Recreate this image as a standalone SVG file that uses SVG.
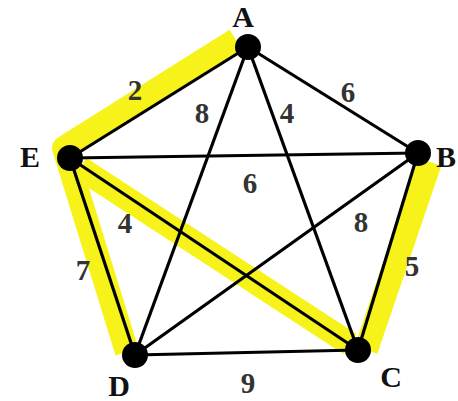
<svg xmlns="http://www.w3.org/2000/svg" width="458" height="401" viewBox="0 0 458 401">
<style>
.hl{fill:none;stroke:#f7f31a;stroke-width:24;stroke-linejoin:round;stroke-linecap:butt}
.e{stroke:#000;stroke-width:3.2}
.n{fill:#000}
.lbl{font-family:"Liberation Serif",serif;font-weight:bold;font-size:30px;fill:#111;text-anchor:middle}
.w{font-family:"Liberation Serif",serif;font-weight:bold;font-size:29px;fill:#333;text-anchor:middle}
</style>
<rect width="458" height="401" fill="#fff"/>
<g id="highlights">
<polyline class="hl" points="236,40 64,148 127,352"/>
<line class="hl" x1="80" y1="168" x2="350" y2="344"/>
<line class="hl" x1="430" y1="162" x2="366" y2="350"/>
</g>
<g id="connectors">
<line class="e" x1="248" y1="47" x2="70" y2="158"/>
<line class="e" x1="248" y1="47" x2="418" y2="153"/>
<line class="e" x1="248" y1="47" x2="135" y2="355"/>
<line class="e" x1="248" y1="47" x2="358" y2="350"/>
<line class="e" x1="70" y1="158" x2="418" y2="153"/>
<line class="e" x1="70" y1="158" x2="135" y2="355"/>
<line class="e" x1="70" y1="158" x2="358" y2="350"/>
<line class="e" x1="418" y1="153" x2="135" y2="355"/>
<line class="e" x1="418" y1="153" x2="358" y2="350"/>
<line class="e" x1="135" y1="355" x2="358" y2="350"/>
</g>
<g id="weights">
<text class="w" x="135" y="100">2</text>
<text class="w" x="202" y="123">8</text>
<text class="w" x="287" y="123">4</text>
<text class="w" x="348" y="102">6</text>
<text class="w" x="250" y="193">6</text>
<text class="w" x="361" y="232">8</text>
<text class="w" x="125" y="233">4</text>
<text class="w" x="83" y="280">7</text>
<text class="w" x="412" y="276">5</text>
<text class="w" x="248" y="393">9</text>
</g>
<g id="A"><circle class="n" cx="248" cy="47" r="13"/><text class="lbl" x="243" y="27">A</text></g>
<g id="B"><circle class="n" cx="418" cy="153" r="13"/><text class="lbl" x="446" y="167">B</text></g>
<g id="C"><circle class="n" cx="358" cy="350" r="13"/><text class="lbl" x="391" y="387">C</text></g>
<g id="D"><circle class="n" cx="135" cy="355" r="13"/><text class="lbl" x="119" y="396">D</text></g>
<g id="E"><circle class="n" cx="70" cy="158" r="13"/><text class="lbl" x="30" y="167">E</text></g>
</svg>
